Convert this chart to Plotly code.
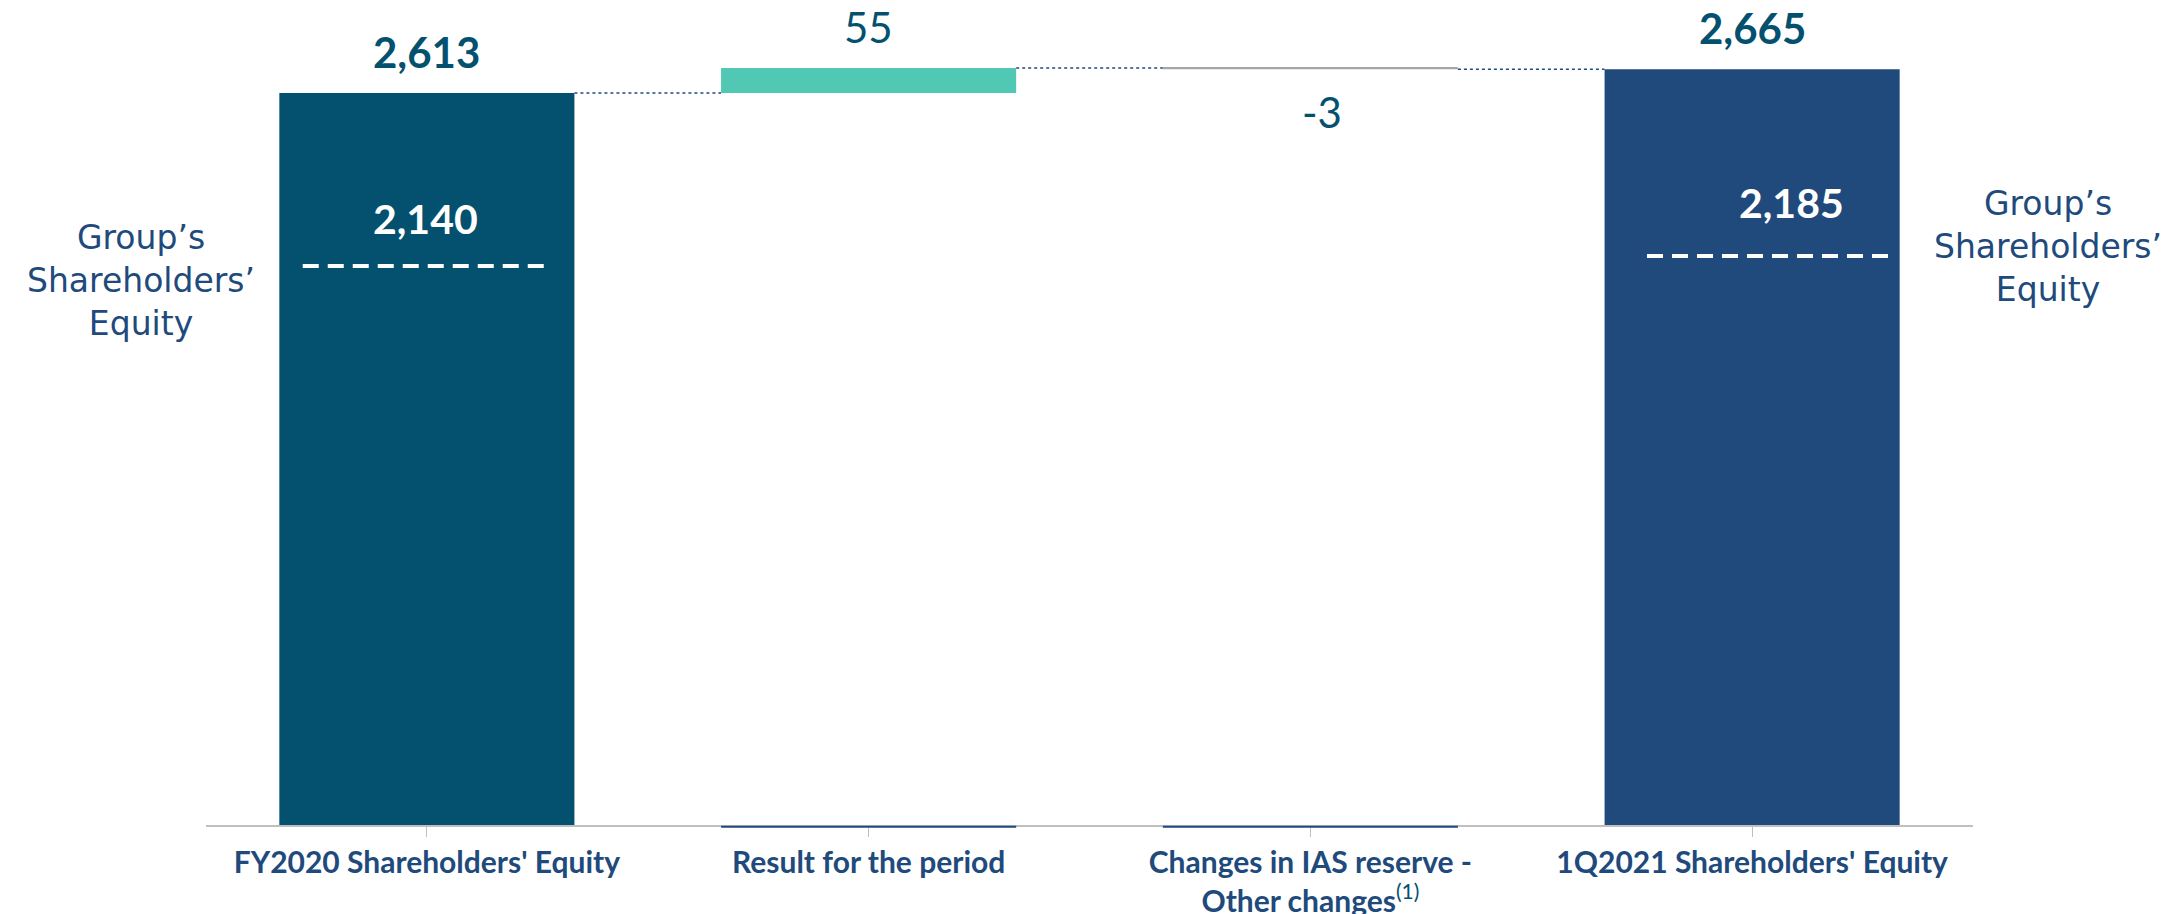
import plotly.graph_objects as go

# chart values
categories = [
    "FY2020 Shareholders' Equity",
    "Result for the period",
    "Changes in IAS reserve -<br>Other changes<span style='font-weight:normal;color:#03506F'><sup>(1)</sup></span>",
    "1Q2021 Shareholders' Equity",
]
measures = ["absolute", "relative", "relative", "total"]
values = [2613, 55, -3, 2665]
value_labels = ["2,613", "55", "-3", "2,665"]
group_labels = ["2,140", None, None, "2,185"]

Y_MIN = 1000
Y_MAX = 2800
BAR_WIDTH = 0.668
FONT = "Lato"

# plot area in pixels (used to place the free-floating decorations)
PLOT_L, PLOT_R, PLOT_H = 198, 1965, 817
PLOT_W = PLOT_R - PLOT_L

TEAL_DARK = "#03516F"
NAVY = "#214A7C"
GREEN = "#50C8B4"
GREY = "#A6A6A6"


def px_x(px):
    return (px - PLOT_L) / PLOT_W


def px_y(py):
    return 1 - py / PLOT_H


def waterfall_geometry():
    bases, heights, running = [], [], 0
    for measure, value in zip(measures, values):
        if measure == "absolute":
            bases.append(0)
            heights.append(value)
            running = value
        elif measure == "relative":
            bases.append(running)
            heights.append(value)
            running += value
        else:
            bases.append(0)
            heights.append(running)
    return bases, heights


def bar_colors():
    colors = []
    for measure, value in zip(measures, values):
        if measure == "absolute":
            colors.append(TEAL_DARK)
        elif measure == "total":
            colors.append(NAVY)
        else:
            colors.append(GREEN if value > 0 else GREY)
    return colors


bases, heights = waterfall_geometry()
ends = [b + h for b, h in zip(bases, heights)]

fig = go.Figure()
fig.add_trace(
    go.Bar(
        x=list(range(len(categories))),
        y=heights,
        base=bases,
        width=BAR_WIDTH,
        marker=dict(color=bar_colors(), line=dict(width=0)),
        hoverinfo="skip",
    )
)

shapes = []
half = BAR_WIDTH / 2
# dotted connectors between bars
for i in range(len(categories) - 1):
    level = ends[i]
    shapes.append(dict(
        type="line", xref="x", yref="y",
        x0=i + half, x1=i + 1 - half, y0=level, y1=level,
        line=dict(color=NAVY, width=1.5, dash="dot"),
    ))
# thin navy baseline under floating bars
for i, measure in enumerate(measures):
    if measure == "relative":
        shapes.append(dict(
            type="line", xref="x", yref="paper",
            x0=i - half, x1=i + half, y0=-0.002, y1=-0.002,
            line=dict(color=NAVY, width=2),
        ))
# white dashed markers inside the totals
dash_spec = {0: (-0.281, 0.267, 258), 3: (-0.238, 0.321, 248)}
for i, (a, b, py) in dash_spec.items():
    shapes.append(dict(
        type="line", xref="x", yref="paper",
        x0=i + a, x1=i + b, y0=px_y(py), y1=px_y(py),
        line=dict(color="white", width=4, dash="16px,9px"),
    ))

annotations = []
for i, label in enumerate(value_labels):
    bold = measures[i] != "relative"
    if values[i] < 0:
        y_pos, shift = ends[i], -43
    else:
        y_pos, shift = max(ends[i], bases[i]), 41
    annotations.append(dict(
        x=i, y=y_pos, xref="x", yref="y", text=f"<b>{label}</b>" if bold else label,
        showarrow=False, yanchor="middle", yshift=shift, xshift=12 if values[i] < 0 else 0,
        font=dict(family=FONT, size=42, color=TEAL_DARK),
    ))

group_pos = {0: (210, -1), 3: (194, 39)}
for i, label in enumerate(group_labels):
    if label is None:
        continue
    py, xs = group_pos[i]
    annotations.append(dict(
        x=i, y=px_y(py), xref="x", yref="paper", yanchor="middle",
        text=f"<b>{label}</b>", showarrow=False, xshift=xs,
        font=dict(family=FONT, size=41, color="white"),
    ))

side_text = "Group’s<br>Shareholders’<br>Equity"
for cx, cy in [(133, 272), (2040, 238)]:
    annotations.append(dict(
        x=px_x(cx), y=px_y(cy), xref="paper", yref="paper",
        xanchor="center", yanchor="middle",
        text=side_text, showarrow=False, align="center",
        font=dict(family="DejaVu Sans", size=33, color=NAVY),
    ))

fig.update_layout(
    width=2171,
    height=914,
    margin=dict(l=PLOT_L, r=2171 - PLOT_R, t=0, b=914 - PLOT_H),
    paper_bgcolor="white",
    plot_bgcolor="white",
    showlegend=False,
    shapes=shapes,
    annotations=annotations,
    xaxis=dict(
        tickmode="array",
        tickvals=list(range(len(categories))),
        ticktext=categories,
        range=[-0.5, len(categories) - 0.5],
        showline=True,
        linecolor="#BFBFBF",
        linewidth=2,
        ticks="outside",
        tickcolor="#BFBFBF",
        ticklen=10,
        showgrid=False,
        zeroline=False,
        tickfont=dict(family=FONT, size=30, color=NAVY, weight="bold"),
        fixedrange=True,
    ),
    yaxis=dict(
        range=[Y_MIN, Y_MAX],
        visible=False,
        showgrid=False,
        zeroline=False,
        fixedrange=True,
    ),
)

fig.write_html("out.html")
